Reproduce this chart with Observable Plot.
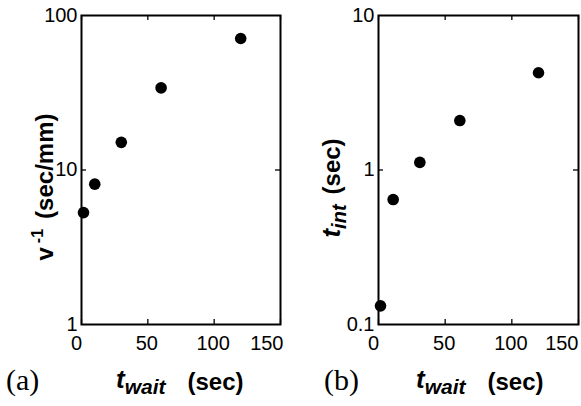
<!DOCTYPE html>
<html>
<head>
<meta charset="utf-8">
<script src="https://cdn.jsdelivr.net/npm/d3@7"></script>
<script src="https://cdn.jsdelivr.net/npm/@observablehq/plot@0.6"></script>
<style>
  html, body { margin: 0; padding: 0; background: white; }
  #wrap { display: flex; flex-direction: row; width: 581px; height: 406px; }
  svg { overflow: visible; }
</style>
</head>
<body>
<div id="wrap"></div>
<script>
// ---- data ----
const twaitA = [1.5, 10, 30, 60, 120];
const vInv   = [5.3, 8.1, 15.1, 34, 71];
const twaitB = [1.5, 11, 31, 61, 120];
const tInt   = [0.132, 0.644, 1.12, 2.09, 4.26];

const xTicks = [0, 50, 100, 150];
const yTicksA = [1, 10, 100];
const yTicksB = [0.1, 1, 10];
const yLabelsB = ["0.1", "1", "10"];

const panelLabels = ["(a)", "(b)"];

function makePanel(xs, ys, yDomain, yTicks, yFmt, opts) {
  const data = xs.map((x, i) => ({x, y: ys[i]}));
  const fw = opts.width - opts.ml - opts.mr;
  const fh = 406 - 15 - 82;
  const midTicks = yTicks.slice(1, -1);
  const svg = Plot.plot({
    width: opts.width,
    height: 406,
    marginLeft: opts.ml,
    marginRight: opts.mr,
    marginTop: 15,
    marginBottom: 82,
    style: {fontFamily: "'Liberation Sans', Arial, sans-serif", fontSize: "20px", background: "white", overflow: "visible", color: "black"},
    x: {domain: [0, 150]},
    y: {type: "log", domain: yDomain},
    marks: [
      Plot.axisX([0], {anchor: "bottom", tickSize: 0, tickPadding: 11, dx: -5, label: null}),
      Plot.axisX([50, 100], {anchor: "bottom", tickSize: 0, tickPadding: 11, dx: -1, label: null}),
      Plot.axisX([150], {anchor: "bottom", tickSize: 0, tickPadding: 11, textAnchor: "end", dx: opts.lastDx, label: null}),
      Plot.axisY(yTicks, {anchor: "left", tickSize: 0, tickPadding: 4, tickFormat: yFmt, label: null}),
      Plot.tickX(xTicks, {x: d => d, insetTop: fh - 5, stroke: "black", strokeWidth: 1.3}),
      Plot.tickX(xTicks, {x: d => d, insetBottom: fh - 5, stroke: "black", strokeWidth: 1.3}),
      Plot.tickY(midTicks, {y: d => d, insetRight: fw - 5, stroke: "black", strokeWidth: 1.3}),
      Plot.tickY(midTicks, {y: d => d, insetLeft: fw - 5, stroke: "black", strokeWidth: 1.3}),
      Plot.frame({stroke: "black", strokeWidth: 2}),
      Plot.dot(data, {x: "x", y: "y", r: 5.8, fill: "black", stroke: "none"})
    ]
  });
  return svg;
}

const wrap = document.getElementById("wrap");
const svgA = makePanel(twaitA, vInv, [1, 100], yTicksA, d => String(d), {width: 290, ml: 81, mr: 10, lastDx: 3});
const svgB = makePanel(twaitB, tInt, [0.1, 10], yTicksB, (d, i) => yLabelsB[yTicksB.indexOf(d)], {width: 291, ml: 88, mr: 3, lastDx: 0});
wrap.appendChild(svgA);
wrap.appendChild(svgB);

const bold = "'Liberation Sans', Arial, sans-serif";

function xLabel(svg, x) {
  const t = d3.select(svg).append("text")
    .attr("x", x).attr("y", 388).attr("text-anchor", "start")
    .attr("font-family", bold).attr("font-weight", "bold").attr("fill", "black");
  t.append("tspan").attr("font-style", "italic").attr("font-size", 26).text("t");
  t.append("tspan").attr("font-style", "italic").attr("font-size", 21).attr("dy", 6).text("wait");
  t.append("tspan").attr("font-size", 24).attr("dy", -4).attr("dx", 22).text("(sec)");
}
function panelLetter(svg, x, s) {
  d3.select(svg).append("text")
    .attr("x", x).attr("y", 390).attr("text-anchor", "start")
    .attr("font-family", "'Liberation Serif', 'Times New Roman', serif")
    .attr("font-size", 30).attr("fill", "black").text(s);
}

xLabel(svgA, 116);
panelLetter(svgA, 6, panelLabels[0]);
xLabel(svgB, 126);
panelLetter(svgB, 34, panelLabels[1]);

// y label A: v^-1 (sec/mm)
{
  const t = d3.select(svgA).append("text")
    .attr("transform", "translate(53,187) rotate(-90)")
    .attr("text-anchor", "middle")
    .attr("font-family", bold).attr("font-weight", "bold").attr("font-size", 24).attr("fill", "black");
  t.append("tspan").text("v");
  t.append("tspan").attr("font-size", 16).attr("dy", -10).attr("dx", 4).text("-1");
  t.append("tspan").attr("dy", 10).attr("dx", 10).text("(sec/mm)");
}
// y label B: t_int (sec)
{
  const t = d3.select(svgB).append("text")
    .attr("transform", "translate(50,188) rotate(-90)")
    .attr("text-anchor", "middle")
    .attr("font-family", bold).attr("font-weight", "bold").attr("font-size", 24).attr("fill", "black");
  t.append("tspan").attr("font-style", "italic").attr("font-size", 26).text("t");
  t.append("tspan").attr("font-style", "italic").attr("font-size", 20).attr("dy", 6).text("int");
  t.append("tspan").attr("dy", -6).attr("dx", 10).text("(sec)");
}
</script>
</body>
</html>
